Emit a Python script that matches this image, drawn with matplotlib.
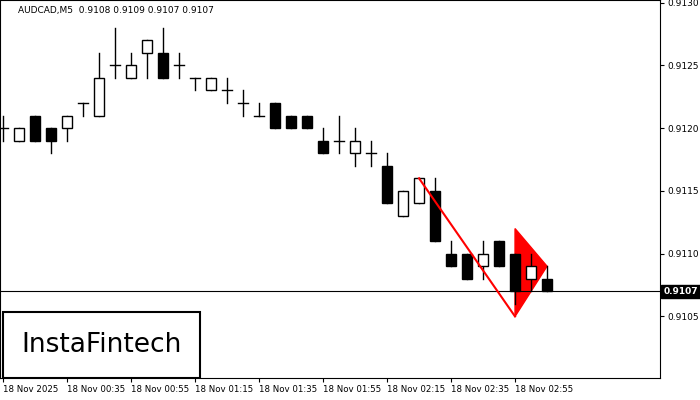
import matplotlib.pyplot as plt
from matplotlib.patches import Rectangle, Polygon

opens  = [0.9120, 0.9119, 0.9121, 0.9120, 0.9120, 0.9122, 0.9121, 0.9125, 0.9124, 0.9126,
          0.9126, 0.9125, 0.9124, 0.9123, 0.9123, 0.9122, 0.9121, 0.9122, 0.9121, 0.9121,
          0.9119, 0.9119, 0.9118, 0.9118, 0.9117, 0.9113, 0.9114, 0.9115, 0.9110, 0.9110,
          0.9109, 0.9111, 0.9110, 0.9108, 0.9108]
highs  = [0.9121, 0.9120, 0.9121, 0.9120, 0.9121, 0.9122, 0.9126, 0.9128, 0.9126, 0.9127,
          0.9128, 0.9126, 0.9124, 0.9124, 0.9124, 0.9123, 0.9122, 0.9122, 0.9121, 0.9121,
          0.9120, 0.9121, 0.9120, 0.9119, 0.9118, 0.9115, 0.9116, 0.9116, 0.9111, 0.9110,
          0.9111, 0.9111, 0.9110, 0.9110, 0.9109]
lows   = [0.9119, 0.9119, 0.9119, 0.9118, 0.9119, 0.9121, 0.9121, 0.9124, 0.9124, 0.9124,
          0.9124, 0.9124, 0.9123, 0.9123, 0.9122, 0.9121, 0.9121, 0.9120, 0.9120, 0.9120,
          0.9118, 0.9118, 0.9117, 0.9117, 0.9114, 0.9113, 0.9114, 0.9111, 0.9109, 0.9108,
          0.9108, 0.9109, 0.9106, 0.9107, 0.9107]
closes = [0.9120, 0.9120, 0.9119, 0.9119, 0.9121, 0.9122, 0.9124, 0.9125, 0.9125, 0.9127,
          0.9124, 0.9125, 0.9124, 0.9124, 0.9123, 0.9122, 0.9121, 0.9120, 0.9120, 0.9120,
          0.9118, 0.9119, 0.9119, 0.9118, 0.9114, 0.9115, 0.9116, 0.9111, 0.9109, 0.9108,
          0.9110, 0.9109, 0.9107, 0.9109, 0.9107]
time_labels = ['18 Nov 2025', '18 Nov 00:35', '18 Nov 00:55', '18 Nov 01:15', '18 Nov 01:35',
               '18 Nov 01:55', '18 Nov 02:15', '18 Nov 02:35', '18 Nov 02:55']
price_ticks = [0.9105, 0.9110, 0.9115, 0.9120, 0.9125, 0.9130]
pole = ([26, 32], [0.9116, 0.9105])
flag = [(32, 0.9112), (32, 0.9105), (34, 0.9109)]
last_price = 0.9107

fig = plt.figure(figsize=(7, 4), dpi=100)
ax = fig.add_axes([0, 22/400, 660/700, 378/400])
w = 0.62
for i in range(len(opens)):
   o, h, l, c = opens[i], highs[i], lows[i], closes[i]
   ax.plot([i, i], [l, h], color='black', lw=1, zorder=2)
   if o == c:
      ax.plot([i - w/2, i + w/2], [o, o], color='black', lw=1, zorder=2)
   else:
      fc = 'white' if c > o else 'black'
      ax.add_patch(Rectangle((i - w/2, min(o, c)), w, abs(c - o), facecolor=fc,
                             edgecolor='black', lw=1, zorder=3))

ax.plot(pole[0], pole[1], color='red', lw=1.5, zorder=4)
ax.add_patch(Polygon(flag, closed=True, facecolor='red', edgecolor='red', zorder=1))
ax.axhline(last_price, color='black', lw=0.8, zorder=1)

ax.set_xlim(-0.19, 41.06)
ax.set_ylim(0.91001, 0.91302)
ax.yaxis.tick_right()
ax.set_yticks(price_ticks)
ax.set_yticklabels(['%.4f' % p for p in price_ticks], fontsize=6.5)
ax.set_xticks(range(0, 4 * len(time_labels), 4))
ax.set_xticklabels(time_labels, fontsize=6.2, ha='left')
ax.tick_params(length=3, pad=2)
ax.text(1.005, last_price, '%.4f' % last_price, transform=ax.get_yaxis_transform(),
        fontsize=6.5, color='white', va='center', ha='left', fontweight='bold',
        bbox=dict(facecolor='black', edgecolor='black', pad=1.5))
ax.text(0.027, 0.985, 'AUDCAD,M5  0.9108 0.9109 0.9107 0.9107', transform=ax.transAxes,
        fontsize=6.5, va='top', ha='left')
ax.add_patch(Rectangle((0.005, 0.0), 0.298, 0.175, transform=ax.transAxes, facecolor='white',
                       edgecolor='black', lw=1.5, zorder=5))
ax.text(0.154, 0.087, 'InstaFintech', transform=ax.transAxes, fontsize=19, ha='center',
        va='center', zorder=6)

fig.savefig('out.png')
